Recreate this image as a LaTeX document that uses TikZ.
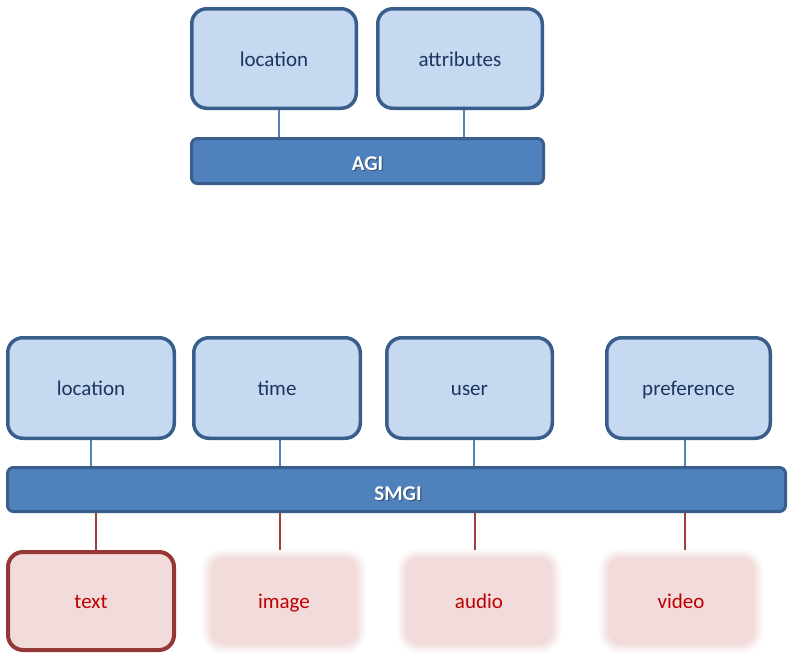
\documentclass[tikz,border=0pt]{standalone}
\usepackage{fontspec}
\setmainfont{Carlito}
\definecolor{lightblue}{HTML}{C6D9F0}
\definecolor{edgeblue}{HTML}{3A5E8C}
\definecolor{barblue}{HTML}{4F81BD}
\definecolor{navytext}{HTML}{1B365D}
\definecolor{linkblue}{HTML}{4F81BD}
\definecolor{pinkfill}{HTML}{F2DCDB}
\definecolor{edgered}{HTML}{953735}
\definecolor{redtext}{HTML}{C00000}
\definecolor{linkred}{HTML}{A0403E}
\begin{document}
\begin{tikzpicture}[x=1pt,y=-1pt,
  txt/.style={font=\fontsize{21}{25}\selectfont, inner sep=0pt, text height=15pt, text depth=0pt},
  bluebox/.style={draw=edgeblue, fill=lightblue, line width=3.5pt, rounded corners=15pt,
    text=navytext, txt},
  barbox/.style={draw=edgeblue, fill=barblue, line width=3pt, rounded corners=6pt,
    inner sep=0pt},
  bartext/.style={text=white, txt, font=\fontsize{21}{25}\selectfont\bfseries},
  bartextshadow/.style={text=black, opacity=0.35, txt, font=\fontsize{21}{25}\selectfont\bfseries},
  redbox/.style={draw=edgered, fill=pinkfill, line width=4pt, rounded corners=15pt,
    text=redtext, txt},
  softbox/.style={fill=pinkfill, rounded corners=14pt,
    preaction={draw=pinkfill!20, line width=14pt, rounded corners=14pt},
    preaction={draw=pinkfill!45, line width=8pt, rounded corners=14pt},
    draw=pinkfill!75, line width=3pt,
    text=redtext, txt},
  bluelink/.style={draw=linkblue, line width=1.3pt},
  redlink/.style={draw=linkred, line width=1.3pt}]
\useasboundingbox (0,0) rectangle (788,654);
\fill[white] (0,0) rectangle (788,654);

% AGI group
\node[bluebox, minimum width=164.5pt, minimum height=99.5pt] (loca) at (274,58.5) {location};
\node[bluebox, minimum width=164.5pt, minimum height=99.5pt] (attr) at (460,58.5) {attributes};
\node[barbox, minimum width=352pt, minimum height=45pt] (agi) at (367.5,161) {};
\node[bartextshadow] at (368.8,163.8) {AGI};
\node[bartext] (agit) at (367.5,162.5) {AGI};
\draw[bluelink] ([xshift=5pt]loca.south) -- ([xshift=5pt]loca.south |- agi.north);
\draw[bluelink] ([xshift=4pt]attr.south) -- ([xshift=4pt]attr.south |- agi.north);

% SMGI group
\node[bluebox, minimum width=166.5pt, minimum height=100.5pt] (locb) at (91,388) {location};
\node[bluebox, minimum width=166.5pt, minimum height=100.5pt] (time) at (277,388) {time};
\node[bluebox, minimum width=165.5pt, minimum height=100.5pt] (user) at (469.5,388) {user};
\node[bluebox, minimum width=163.5pt, minimum height=100.5pt] (pref) at (688.5,388) {preference};
\node[barbox, minimum width=778pt, minimum height=44pt] (smgi) at (396.5,489.5) {};
\node[bartextshadow] at (399.3,493.8) {SMGI};
\node[bartext] (smgit) at (398,492.5) {SMGI};
\draw[bluelink] (locb.south) -- (locb.south |- smgi.north);
\draw[bluelink] ([xshift=3pt]time.south) -- ([xshift=3pt]time.south |- smgi.north);
\draw[bluelink] ([xshift=4.5pt]user.south) -- ([xshift=4.5pt]user.south |- smgi.north);
\draw[bluelink] ([xshift=-3.5pt]pref.south) -- ([xshift=-3.5pt]pref.south |- smgi.north);

% media boxes
\node[redbox, minimum width=166pt, minimum height=98pt] (text) at (91,601) {text};
\node[softbox, minimum width=150pt, minimum height=90pt] (image) at (284,601) {image};
\node[softbox, minimum width=150pt, minimum height=90pt] (audio) at (479,601) {audio};
\node[softbox, minimum width=150pt, minimum height=90pt] (video) at (681,601) {video};
\coordinate (c1) at (96,0);
\coordinate (c2) at (280,0);
\coordinate (c3) at (475,0);
\coordinate (c4) at (685,0);
\draw[redlink] (smgi.south -| c1) -- (text.north -| c1);
\draw[redlink] (smgi.south -| c2) -- (c2 |- 0,550);
\draw[redlink] (smgi.south -| c3) -- (c3 |- 0,550);
\draw[redlink] (smgi.south -| c4) -- (c4 |- 0,550);
\end{tikzpicture}
\end{document}
